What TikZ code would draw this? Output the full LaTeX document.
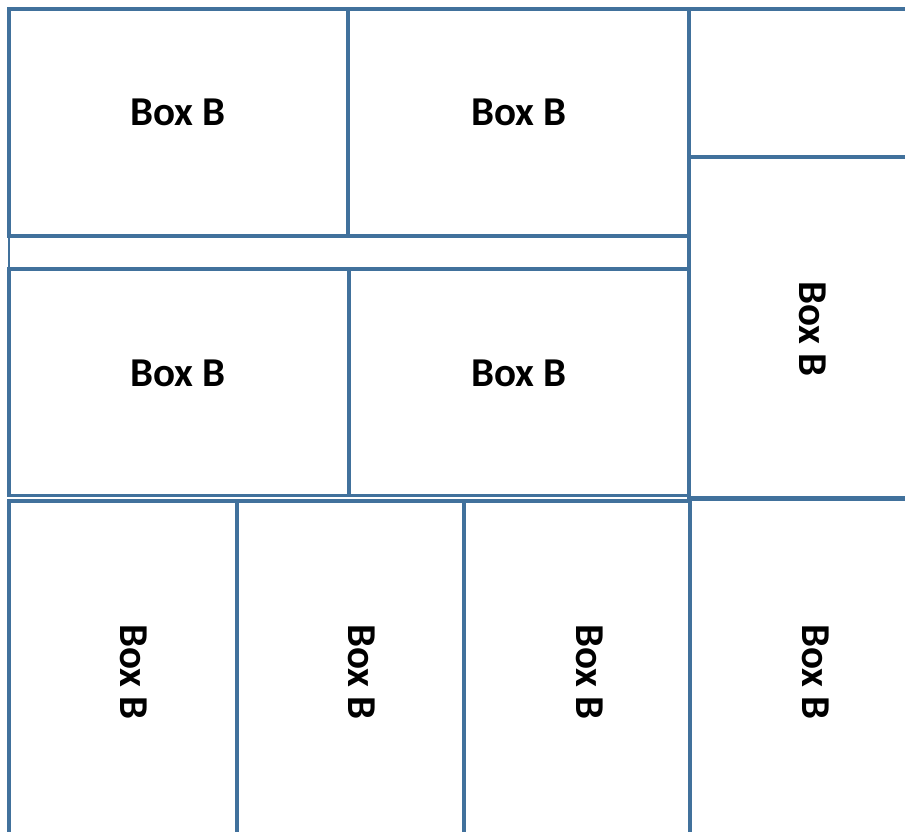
\documentclass[tikz,border=0pt]{standalone}
\usepackage{fontspec}
\setmainfont{Carlito}
\definecolor{edge}{RGB}{65,113,156}
\begin{document}
\begin{tikzpicture}[x=1pt,y=-1pt,
  cell/.style={draw=edge,line width=3.2pt},
  thin/.style={draw=edge,line width=2pt},
  lbl/.style={font=\bfseries\fontsize{41}{48}\selectfont,inner sep=0pt}]
\useasboundingbox (0,0) rectangle (905,832);
% top row
\draw[cell] (9,9) rectangle (348,236) coordinate (a1);
\draw[cell] (348,9) rectangle (689,236) coordinate (a2);
\draw[cell] (689,9) rectangle (915,157) coordinate (a3);
% strip
\draw[thin] (9,236) rectangle (689,269) coordinate (s1);
% second row
\draw[cell] (9,269) rectangle (349,495.5) coordinate (b1);
\draw[cell] (349,269) rectangle (689,495.5) coordinate (b2);
\draw[cell] (689,157) rectangle (915,498) coordinate (r1);
% bottom row
\draw[cell] (9,501) rectangle (237,845) coordinate (c1);
\draw[cell] (237,501) rectangle (464,845) coordinate (c2);
\draw[cell] (464,501) rectangle (690,845) coordinate (c3);
\draw[cell] (690,499.5) rectangle (915,845) coordinate (c4);
% labels
\node[lbl] (t1) at (178,112) {Box B};
\node[lbl] (t2) at (519,112) {Box B};
\node[lbl] (t3) at (178,373) {Box B};
\node[lbl] (t4) at (519,373) {Box B};
\node[lbl,rotate=-90] (t5) at (813,329) {Box B};
\node[lbl,rotate=-90] (t6) at (134,672) {Box B};
\node[lbl,rotate=-90] (t7) at (362,672) {Box B};
\node[lbl,rotate=-90] (t8) at (590,672) {Box B};
\node[lbl,rotate=-90] (t9) at (816,672) {Box B};
\end{tikzpicture}
\end{document}
